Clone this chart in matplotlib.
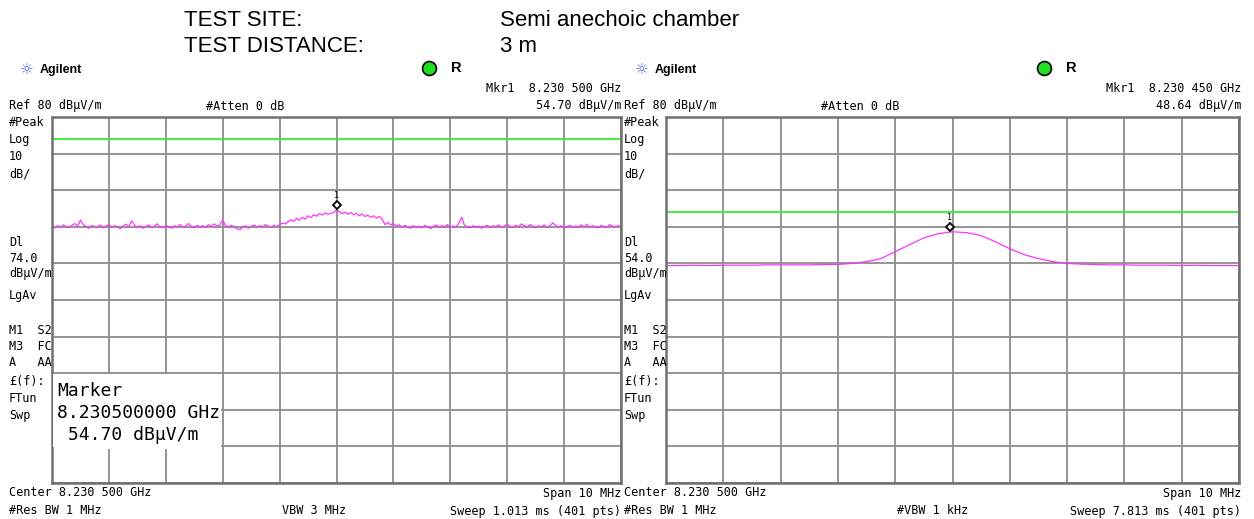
import matplotlib.pyplot as plt
from matplotlib.transforms import offset_copy
import numpy as np

W, H = 1254, 519

center_mhz = 8230.5
span_mhz = 10.0
ref_level = 80
db_per_div = 10

# left screen: peak detector, VBW 3 MHz (0.05 MHz steps)
left_trace = [
    50.1, 49.7, 50.3, 49.9, 50.5, 50.0, 49.8, 50.4, 50.9, 50.2,
    51.8, 50.6, 50.0, 49.6, 50.3, 50.1, 49.9, 50.5, 49.7, 50.2,
    50.6, 49.9, 50.3, 50.0, 49.5, 50.2, 50.7, 50.1, 51.6, 50.4,
    49.8, 50.3, 49.6, 50.1, 50.5, 49.9, 50.2, 50.8, 50.0, 49.7,
    50.4, 50.1, 49.6, 50.3, 50.0, 50.6, 49.8, 50.2, 50.9, 50.1,
    49.7, 50.4, 50.0, 50.3, 49.9, 50.6, 50.1, 50.8, 50.2, 50.5,
    51.9, 50.3, 49.9, 50.4, 50.0, 49.5, 49.2, 49.8, 50.3, 49.6,
    50.1, 50.5, 49.9, 50.3, 50.0, 50.6, 50.2, 49.8, 50.4, 50.0,
    50.6, 51.0, 50.8, 51.4, 51.9, 51.5, 52.3, 51.8, 52.6, 52.1,
    53.0, 52.5, 53.3, 52.9, 53.6, 53.2, 53.8, 53.4, 53.7, 53.9,
    54.7, 54.1, 53.6, 54.0, 53.4, 53.9, 53.3, 53.7, 53.0, 53.5,
    52.8, 53.2, 52.6, 53.0, 52.4, 52.8, 52.2, 50.6, 51.2, 50.5,
    50.9, 50.2, 50.6, 49.9, 50.4, 50.0, 49.6, 50.3, 49.8, 50.2,
    49.7, 50.4, 50.0, 49.5, 50.1, 50.5, 49.9, 50.3, 50.0, 50.6,
    49.8, 50.2, 49.9, 51.0, 52.6, 50.4, 50.0, 49.7, 50.3, 49.9,
    50.2, 49.6, 50.1, 50.4, 49.8, 50.3, 50.0, 50.5, 49.9, 50.2,
    50.7, 50.1, 49.8, 50.4, 50.0, 50.8, 50.3, 50.0, 50.6, 50.2,
    49.7, 50.3, 50.0, 50.5, 49.8, 50.2, 51.1, 50.4, 49.9, 50.3,
    49.6, 50.1, 50.4, 49.8, 50.2, 49.9, 50.5, 50.0, 50.7, 49.8,
    50.3, 50.0, 49.7, 50.4, 50.1, 49.9, 50.6, 50.2, 50.0, 50.3,
    50.1,
]
left_limit = 74.0
left_marker = (8230.5, 54.70)

# right screen: VBW 1 kHz (0.25 MHz steps)
right_trace = [
    39.4, 39.4, 39.5, 39.4, 39.5, 39.5, 39.5, 39.6, 39.6, 39.6,
    39.6, 39.7, 39.7, 40.0, 40.5, 41.3, 43.2, 45.1, 47.0, 48.1,
    48.64, 48.4, 47.6, 45.9, 44.0, 42.4, 41.3, 40.5, 40.0, 39.8,
    39.7, 39.6, 39.6, 39.5, 39.5, 39.5, 39.4, 39.5, 39.4, 39.4,
    39.4,
]
right_limit = 54.0
right_marker = (8230.45, 48.64)

fig = plt.figure(figsize=(W / 100, H / 100), dpi=100)
fig.patch.set_facecolor('white')

GRID = '#8c8c8c'
MONO = 'DejaVu Sans Mono'
SANS = 'Liberation Sans'


def make_screen(x0, x1, trace, limit, marker):
    ax = fig.add_axes([x0 / W, 1 - 483 / H, (x1 - x0) / W, 366 / H])
    f = np.linspace(center_mhz - span_mhz / 2, center_mhz + span_mhz / 2, len(trace))
    ax.set_xlim(center_mhz - span_mhz / 2, center_mhz + span_mhz / 2)
    ax.set_ylim(ref_level - 10 * db_per_div, ref_level)
    ax.set_xticks(np.arange(center_mhz - 5, center_mhz + 5.01, 1.0))
    ax.set_yticks(np.arange(ref_level - 100, ref_level + 1, db_per_div))
    ax.grid(True, color=GRID, lw=1.3)
    ax.tick_params(length=0, labelbottom=False, labelleft=False)
    for s in ax.spines.values():
        s.set_color('#707070')
        s.set_linewidth(1.8)
    ax.axhline(limit, color='#33ee33', lw=1.3)
    ax.plot(f, trace, color='#ff33ff', lw=0.9)
    off = offset_copy(ax.transData, fig=fig, y=5, units='dots')
    ax.plot([marker[0]], [marker[1]], marker='D', ms=4.5, mfc='white',
            mec='black', mew=1.3, transform=off)
    off2 = offset_copy(ax.transData, fig=fig, y=14, units='dots')
    ax.text(marker[0], marker[1], '1', fontsize=6, family=MONO, ha='center',
            va='center', transform=off2)
    return ax


make_screen(52, 621, left_trace, left_limit, left_marker)
make_screen(666, 1239, right_trace, right_limit, right_marker)

# overlay in pixel coordinates for all the screen text
ov = fig.add_axes([0, 0, 1, 1])
ov.set_xlim(0, W)
ov.set_ylim(H, 0)
ov.axis('off')
ov.patch.set_alpha(0)


def t(x, y, s, size=8.5, ha='left', family=MONO, **kw):
    ov.text(x, y, s, fontsize=size, ha=ha, va='center', family=family, **kw)


t(184, 20, 'TEST SITE:', 16, family=SANS)
t(500, 20, 'Semi anechoic chamber', 16, family=SANS)
t(184, 46, 'TEST DISTANCE:', 16, family=SANS)
t(500, 46, '3 m', 16, family=SANS)

side_labels = [('#Peak', 122), ('Log', 140), ('10', 157), ('dB/', 174),
               ('Dl', 242), (None, 258), ('dBµV/m', 274), ('LgAv', 295),
               ('M1  S2', 330), ('M3  FC', 346), ('A   AA', 363),
               ('£(f):', 381), ('FTun', 398), ('Swp', 416)]

screens = [
    dict(x=0, right=621, mkr='Mkr1  8.230 500 GHz', amp='54.70 dBµV/m',
         dl='74.0', vbw='VBW 3 MHz', vbw_x=282, sweep='Sweep 1.013 ms (401 pts)'),
    dict(x=615, right=1241, mkr='Mkr1  8.230 450 GHz', amp='48.64 dBµV/m',
         dl='54.0', vbw='#VBW 1 kHz', vbw_x=897, sweep='Sweep 7.813 ms (401 pts)'),
]

for sc in screens:
    x = sc['x']
    t(x + 20, 70, '☼', 11, family='DejaVu Sans', color='#4466dd')
    t(x + 40, 70, 'Agilent', 9, family=SANS, weight='bold')
    ov.plot(x + 429, 68, 'o', ms=10, mfc='#22dd22', mec='black', mew=1.2)
    t(x + 451, 68, 'R', 10.5, family=SANS, weight='bold')
    t(sc['right'], 89, sc['mkr'], ha='right')
    t(x + 9, 106, 'Ref 80 dBµV/m')
    t(x + 206, 106, '#Atten 0 dB')
    t(sc['right'], 106, sc['amp'], ha='right')
    for lab, yy in side_labels:
        t(x + 9, yy, sc['dl'] if lab is None else lab)
    t(x + 9, 493, 'Center 8.230 500 GHz')
    t(sc['right'], 493, 'Span 10 MHz', ha='right')
    t(x + 9, 511, '#Res BW 1 MHz')
    t(sc['vbw_x'], 511, sc['vbw'])
    t(sc['right'], 511, sc['sweep'], ha='right')

# marker readout box on the left screen
ov.add_patch(plt.Rectangle((53, 374), 168, 73, facecolor='white', edgecolor='none'))
ov.add_patch(plt.Rectangle((57, 445), 146, 4, facecolor='white', edgecolor='none'))
t(57, 391, 'Marker', 13)
t(57, 413, '8.230500000 GHz', 13)
t(57, 435, ' 54.70 dBµV/m', 13)

fig.savefig('out.png', dpi=100)
